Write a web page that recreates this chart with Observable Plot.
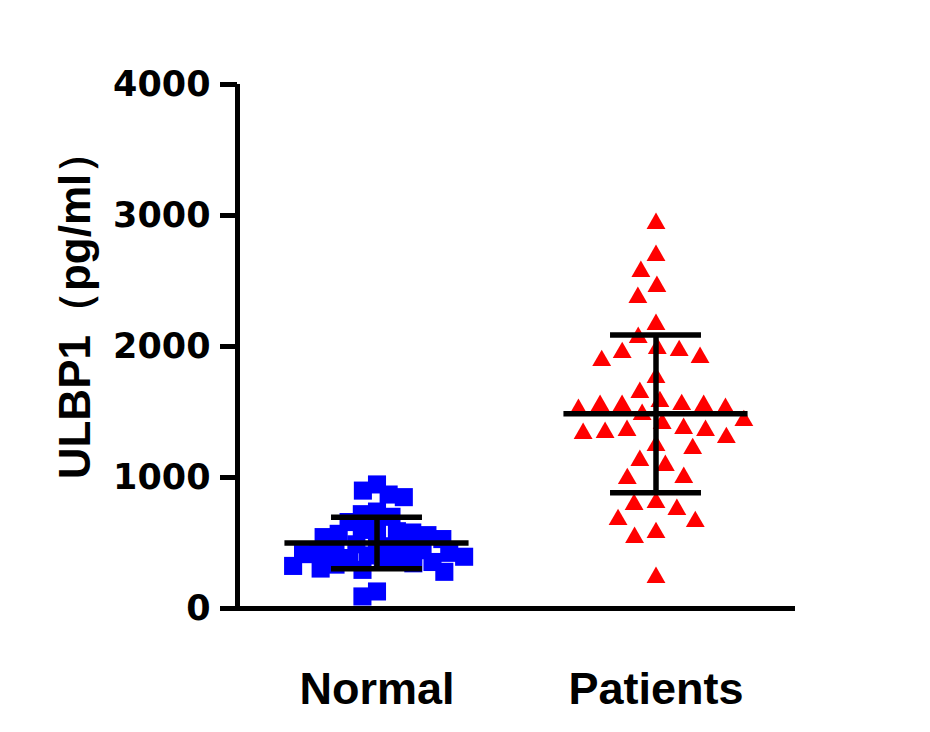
<!DOCTYPE html>
<html><head><meta charset="utf-8">
<script src="https://cdn.jsdelivr.net/npm/d3@7"></script>
<script src="https://cdn.jsdelivr.net/npm/@observablehq/plot@0.6"></script>
<style>
body{margin:0;background:#fff;}
svg text{font-weight:bold;}
svg g[aria-label="y-axis tick label"] text{font-family:"DejaVu Sans",sans-serif;}
svg g[aria-label="y-axis tick"] path{stroke-width:5px;}
</style>
</head><body><div id="chart"></div>
<script>
const groups = ["Normal", "Patients"];
const normalValues = [947, 900, 870, 850, 740, 720, 700,
  660, 620, 600, 590, 580, 570, 560, 545, 530,
  500, 490, 475, 465, 455, 445, 435, 425, 415, 405, 395, 385, 375, 365, 355, 345, 335, 325, 305, 295,
  280, 130, 92];
const patientValues = [2939, 2695, 2573, 2458, 2374, 2168, 2069, 1985, 1969, 1954, 1916, 1893, 1763, 1649,
  1580, 1557, 1550, 1550, 1550, 1527, 1519, 1481,
  1435, 1412, 1374, 1359, 1359, 1344, 1336, 1305,
  1244, 1221, 1130, 1092, 1000, 992,
  809, 794, 756, 679, 664, 580, 542, 237];
const yTicks = [0, 1000, 2000, 3000, 4000];
const yLabel = "ULBP1（pg/ml）";

const normalData = normalValues.map(v => ({group: "Normal", value: v}));
const patientData = patientValues.map(v => ({group: "Patients", value: v}));
const stats = [[groups[0], normalValues], [groups[1], patientValues]].map(([g, vs]) => {
  const m = d3.mean(vs), s = d3.deviation(vs);
  return {group: g, mean: m, lo: m - s, hi: m + s};
});

const chart = Plot.plot({
  width: 930, height: 732,
  marginTop: 84, marginBottom: 124, marginLeft: 237, marginRight: 135,
  style: {fontFamily: '"Liberation Sans", Arial, sans-serif', fontWeight: "bold", color: "#000", background: "#fff"},
  fx: {domain: groups, padding: 0},
  x: {domain: [-1, 1], axis: null},
  y: {domain: [0, 4000]},
  marks: [
    Plot.dot(normalData, Plot.dodgeX({anchor: "middle", padding: -5}, {fx: "group", y: "value", r: 10.2, symbol: "square", fill: "#0000ff", stroke: "none"})),
    Plot.dot(patientData, Plot.dodgeX({anchor: "middle", padding: 8}, {fx: "group", y: "value", r: 7, symbol: "triangle", fill: "#ff0000", stroke: "none"})),
    Plot.ruleY(stats, {fx: "group", y: "mean", x1: -0.66, x2: 0.66, stroke: "#000", strokeWidth: 5.5}),
    Plot.ruleY(stats, {fx: "group", y: "hi", x1: -0.326, x2: 0.326, stroke: "#000", strokeWidth: 5.5}),
    Plot.ruleY(stats, {fx: "group", y: "lo", x1: -0.326, x2: 0.326, stroke: "#000", strokeWidth: 5.5}),
    Plot.ruleX(stats, {fx: "group", x: 0, y1: "lo", y2: "hi", stroke: "#000", strokeWidth: 5.5}),
    Plot.ruleY([0], {stroke: "#000", strokeWidth: 5}),
    Plot.ruleX([-1], {y1: -10, y2: 4000, stroke: "#000", strokeWidth: 5, facetAnchor: "left"}),
    Plot.axisY({ticks: yTicks, tickFormat: d => String(d), tickSize: 17, tickPadding: 10, strokeWidth: 5, fontSize: 35, label: null}),
    Plot.axisFx({anchor: "bottom", tickSize: 0, tickPadding: 64, fontSize: 45, label: null}),
    Plot.text([yLabel], {text: d => d, facetAnchor: "left", frameAnchor: "left", textAnchor: "middle", rotate: -90, dx: -162, dy: -42, fontSize: 44, fontWeight: "bold"})
  ]
});
document.getElementById("chart").appendChild(chart);
</script>
</body></html>
